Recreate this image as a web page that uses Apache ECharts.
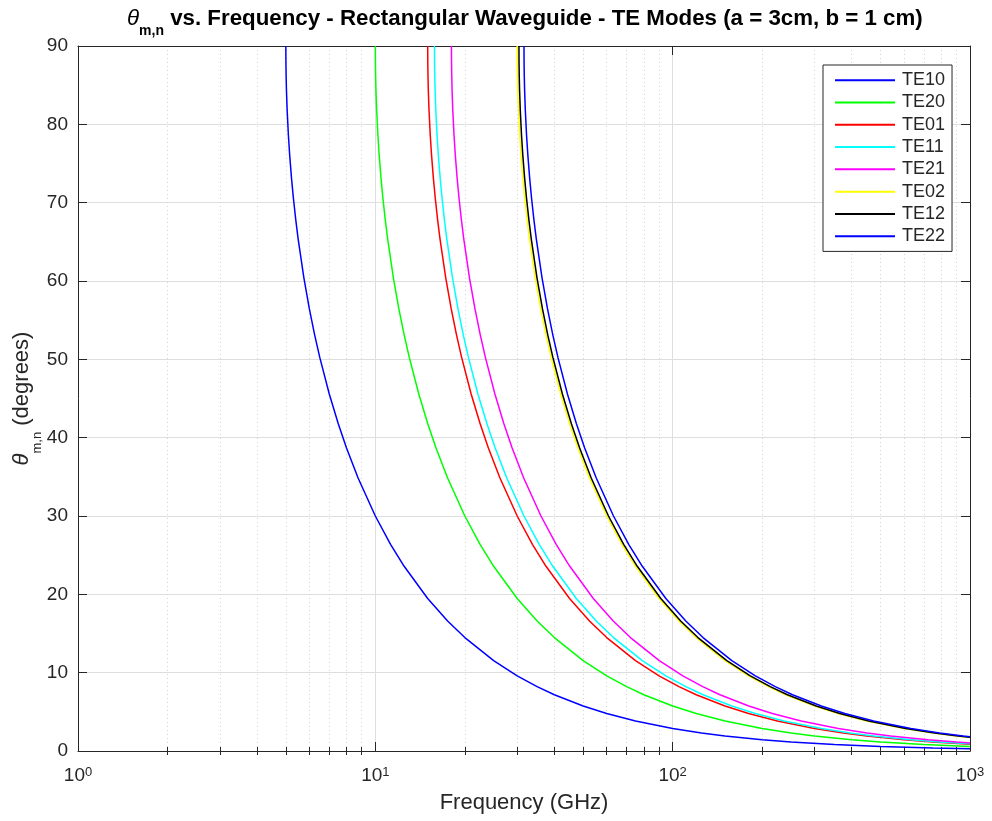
<!DOCTYPE html>
<html>
<head>
<meta charset="utf-8">
<title>Rectangular Waveguide TE Modes</title>
<script src="https://cdn.jsdelivr.net/npm/echarts@6/dist/echarts.min.js"></script>
<style>
  html, body { margin: 0; padding: 0; background: #fff; }
  #main { width: 992px; height: 821px; }
</style>
</head>
<body>
<div id="main"></div>
<script>
// values: frequency (GHz) and angle (degrees) per mode
const modeNames = ['TE10', 'TE20', 'TE01', 'TE11', 'TE21', 'TE02', 'TE12', 'TE22'];
const modeColors = ['#0000ff', '#00ff00', '#ff0000', '#00ffff', '#ff00ff', '#ffff00', '#000000', '#0000ff'];

const te10Freq = [5, 5.0025, 5.01, 5.025, 5.05, 5.1, 5.15, 5.225, 5.3, 5.4, 5.5, 5.75, 6, 6.25, 6.5, 7, 7.5, 8, 8.75, 10, 11.25, 12.5, 15, 17.5, 20, 25, 30, 35, 40, 50, 60, 75, 100, 125, 150, 200, 250, 350, 500, 750, 1000];
const te10Theta = [90, 88.19, 86.38, 84.28, 81.93, 78.64, 76.14, 73.13, 70.63, 67.81, 65.38, 60.41, 56.44, 53.13, 50.28, 45.58, 41.81, 38.68, 34.85, 30, 26.39, 23.58, 19.47, 16.6, 14.48, 11.54, 9.59, 8.21, 7.18, 5.74, 4.78, 3.82, 2.87, 2.29, 1.91, 1.43, 1.15, 0.82, 0.57, 0.38, 0.29];

const te20Freq = [10, 10.005, 10.02, 10.05, 10.1, 10.2, 10.3, 10.45, 10.6, 10.8, 11, 11.5, 12, 12.5, 13, 14, 15, 16, 17.5, 20, 22.5, 25, 30, 35, 40, 50, 60, 70, 80, 100, 120, 150, 200, 250, 300, 400, 500, 700, 1000];
const te20Theta = [90, 88.19, 86.38, 84.28, 81.93, 78.64, 76.14, 73.13, 70.63, 67.81, 65.38, 60.41, 56.44, 53.13, 50.28, 45.58, 41.81, 38.68, 34.85, 30, 26.39, 23.58, 19.47, 16.6, 14.48, 11.54, 9.59, 8.21, 7.18, 5.74, 4.78, 3.82, 2.87, 2.29, 1.91, 1.43, 1.15, 0.82, 0.57];

const te01Freq = [15, 15.0075, 15.03, 15.075, 15.15, 15.3, 15.45, 15.675, 15.9, 16.2, 16.5, 17.25, 18, 18.75, 19.5, 21, 22.5, 24, 26.25, 30, 33.75, 37.5, 45, 52.5, 60, 75, 90, 105, 120, 150, 180, 225, 300, 375, 450, 600, 750, 1000];
const te01Theta = [90, 88.19, 86.38, 84.28, 81.93, 78.64, 76.14, 73.13, 70.63, 67.81, 65.38, 60.41, 56.44, 53.13, 50.28, 45.58, 41.81, 38.68, 34.85, 30, 26.39, 23.58, 19.47, 16.6, 14.48, 11.54, 9.59, 8.21, 7.18, 5.74, 4.78, 3.82, 2.87, 2.29, 1.91, 1.43, 1.15, 0.86];

const te11Freq = [15.81, 15.818, 15.842, 15.889, 15.968, 16.126, 16.284, 16.521, 16.759, 17.075, 17.39, 18.18, 18.97, 19.76, 20.55, 22.13, 23.72, 25.3, 27.67, 31.62, 35.57, 39.53, 47.43, 55.34, 63.24, 79.05, 94.86, 110.7, 126.5, 158.1, 189.7, 237.2, 316.2, 395.3, 474.3, 632.4, 790.5, 1000];
const te11Theta = [90, 88.19, 86.38, 84.28, 81.93, 78.64, 76.14, 73.13, 70.63, 67.81, 65.38, 60.41, 56.44, 53.13, 50.28, 45.58, 41.81, 38.68, 34.85, 30, 26.39, 23.58, 19.47, 16.6, 14.48, 11.54, 9.59, 8.21, 7.18, 5.74, 4.78, 3.82, 2.87, 2.29, 1.91, 1.43, 1.15, 0.91];

const te21Freq = [18.03, 18.039, 18.066, 18.12, 18.21, 18.391, 18.571, 18.841, 19.112, 19.472, 19.833, 20.73, 21.636, 22.538, 23.439, 25.242, 27.045, 28.848, 31.55, 36.06, 40.57, 45.08, 54.09, 63.11, 72.12, 90.15, 108.2, 126.2, 144.2, 180.3, 216.4, 270.5, 360.6, 450.8, 540.9, 721.2, 901.5, 1000];
const te21Theta = [90, 88.19, 86.38, 84.28, 81.93, 78.64, 76.14, 73.13, 70.63, 67.81, 65.38, 60.41, 56.44, 53.13, 50.28, 45.58, 41.81, 38.68, 34.85, 30, 26.39, 23.58, 19.47, 16.6, 14.48, 11.54, 9.59, 8.21, 7.18, 5.74, 4.78, 3.82, 2.87, 2.29, 1.91, 1.43, 1.15, 1.03];

const te02Freq = [30, 30.015, 30.06, 30.15, 30.3, 30.6, 30.9, 31.35, 31.8, 32.4, 33, 34.5, 36, 37.5, 39, 42, 45, 48, 52.5, 60, 67.5, 75, 90, 105, 120, 150, 180, 210, 240, 300, 360, 450, 600, 750, 900, 1000];
const te02Theta = [90, 88.19, 86.38, 84.28, 81.93, 78.64, 76.14, 73.13, 70.63, 67.81, 65.38, 60.41, 56.44, 53.13, 50.28, 45.58, 41.81, 38.68, 34.85, 30, 26.39, 23.58, 19.47, 16.6, 14.48, 11.54, 9.59, 8.21, 7.18, 5.74, 4.78, 3.82, 2.87, 2.29, 1.91, 1.72];

const te12Freq = [30.41, 30.425, 30.471, 30.562, 30.714, 31.018, 31.322, 31.778, 32.235, 32.843, 33.451, 34.97, 36.492, 38.01, 39.533, 42.574, 45.615, 48.656, 53.22, 60.82, 68.42, 76.03, 91.23, 106.4, 121.6, 152.1, 182.5, 212.9, 243.3, 304.1, 364.9, 456.2, 608.2, 760.3, 912.3, 1000];
const te12Theta = [90, 88.19, 86.38, 84.28, 81.93, 78.64, 76.14, 73.13, 70.63, 67.81, 65.38, 60.41, 56.44, 53.13, 50.28, 45.58, 41.81, 38.68, 34.85, 30, 26.39, 23.58, 19.47, 16.6, 14.48, 11.54, 9.59, 8.21, 7.18, 5.74, 4.78, 3.82, 2.87, 2.29, 1.91, 1.74];

const te22Freq = [31.62, 31.636, 31.683, 31.778, 31.936, 32.252, 32.569, 33.043, 33.517, 34.15, 34.782, 36.363, 37.944, 39.525, 41.106, 44.268, 47.43, 50.592, 55.335, 63.24, 71.145, 79.05, 94.86, 110.7, 126.5, 158.1, 189.7, 221.3, 253, 316.2, 379.4, 474.3, 632.4, 790.5, 948.6, 1000];
const te22Theta = [90, 88.19, 86.38, 84.28, 81.93, 78.64, 76.14, 73.13, 70.63, 67.81, 65.38, 60.41, 56.44, 53.13, 50.28, 45.58, 41.81, 38.68, 34.85, 30, 26.39, 23.58, 19.47, 16.6, 14.48, 11.54, 9.59, 8.21, 7.18, 5.74, 4.78, 3.82, 2.87, 2.29, 1.91, 1.81];

const modeFreqs = [te10Freq, te20Freq, te01Freq, te11Freq, te21Freq, te02Freq, te12Freq, te22Freq];
const modeThetas = [te10Theta, te20Theta, te01Theta, te11Theta, te21Theta, te02Theta, te12Theta, te22Theta];

// axis ticks
const xMinorTicks = [2, 3, 4, 5, 6, 7, 8, 9, 20, 30, 40, 50, 60, 70, 80, 90, 200, 300, 400, 500, 600, 700, 800, 900];
const yMin = 0, yMax = 90, yStep = 10;

const textColor = '#262626';
const fontFamily = 'Liberation Sans, Arial, Helvetica, sans-serif';

const chart = echarts.init(document.getElementById('main'));

const series = modeNames.map((name, i) => ({
  name: name,
  type: 'line',
  xAxisIndex: 0,
  yAxisIndex: 0,
  symbol: 'none',
  smooth: false,
  lineStyle: { color: modeColors[i], width: 1.5 },
  itemStyle: { color: modeColors[i] },
  emphasis: { disabled: true },
  data: modeFreqs[i].map((f, j) => [f, modeThetas[i][j]])
}));

function logAxis(pos, opts) {
  return Object.assign({
    type: 'log',
    logBase: 10,
    min: 1,
    max: 1000,
    position: pos,
    gridIndex: 0,
    axisLine: { show: false },
    axisTick: { show: false },
    axisLabel: { show: false },
    splitLine: { show: false }
  }, opts);
}

const option = {
  animation: false,
  backgroundColor: '#ffffff',
  textStyle: { fontFamily: fontFamily, color: textColor },
  title: {
    text: '{th|θ}{sub|m,n}{t| vs. Frequency - Rectangular Waveguide - TE Modes (a = 3cm, b = 1 cm)}',
    left: 122,
    top: 3,
    padding: 5,
    textStyle: {
      rich: {
        th: { fontFamily: fontFamily, fontSize: 22.3, fontStyle: 'italic', fontWeight: 'normal', color: '#000', lineHeight: 26, verticalAlign: 'top' },
        sub: { fontFamily: fontFamily, fontSize: 14, fontWeight: 'bold', color: '#000', lineHeight: 14, padding: [16, 0, 0, 0], verticalAlign: 'top' },
        t: { fontFamily: fontFamily, fontSize: 22.3, fontWeight: 'bold', color: '#000', lineHeight: 26, verticalAlign: 'top' }
      }
    }
  },
  legend: {
    orient: 'vertical',
    left: 823,
    top: 65,
    padding: [4, 7, 4, 12],
    icon: 'rect',
    itemWidth: 60,
    itemHeight: 2,
    itemGap: 0,
    backgroundColor: '#ffffff',
    borderColor: textColor,
    borderWidth: 1,
    borderRadius: 0,
    selectedMode: false,
    textStyle: { fontFamily: fontFamily, fontSize: 18, color: textColor, lineHeight: 22.3, padding: [0, 0, 0, 2] },
    data: modeNames
  },
  grid: { left: 78, right: 22, top: 46, bottom: 70, containLabel: false, outerBoundsMode: 'none' },
  xAxis: [
    logAxis('bottom', {
      name: 'Frequency (GHz)',
      nameLocation: 'middle',
      nameGap: 41,
      nameMoveOverlap: false,
      nameTextStyle: { fontFamily: fontFamily, fontSize: 22, color: textColor },
      axisLine: { show: true, onZero: false, lineStyle: { color: textColor, width: 1 } },
      axisTick: { show: true, inside: true, length: 9, lineStyle: { color: textColor } },
      axisLabel: {
        show: true,
        margin: 15,
        formatter: v => '{b|10}{s|' + Math.round(Math.log10(v)) + '}',
        rich: {
          b: { fontFamily: fontFamily, fontSize: 19, color: textColor, lineHeight: 19, verticalAlign: 'bottom' },
          s: { fontFamily: fontFamily, fontSize: 13, color: textColor, lineHeight: 13, padding: [0, 0, 10, 0], verticalAlign: 'top' }
        }
      },
      splitLine: { show: true, lineStyle: { color: '#dedede', width: 1 } }
    }),
    logAxis('bottom', {
      axisTick: { show: true, inside: true, length: 4, customValues: xMinorTicks, lineStyle: { color: textColor } },
      splitLine: { show: true, lineStyle: { color: '#d2d2d2', width: 1, type: [1, 3] } }
    }),
    logAxis('top', {
      axisLine: { show: true, onZero: false, lineStyle: { color: textColor, width: 1 } },
      axisTick: { show: true, inside: true, length: 9, lineStyle: { color: textColor } }
    }),
    logAxis('top', {
      axisTick: { show: true, inside: true, length: 4, customValues: xMinorTicks, lineStyle: { color: textColor } }
    })
  ],
  yAxis: [
    {
      type: 'value',
      min: yMin,
      max: yMax,
      interval: yStep,
      position: 'left',
      name: '{th|θ}{sub|m,n}{t| (degrees)}',
      nameLocation: 'middle',
      nameGap: 40,
      nameMoveOverlap: false,
      nameTextStyle: {
        rich: {
          th: { fontFamily: fontFamily, fontSize: 22, fontStyle: 'italic', color: textColor, lineHeight: 27, verticalAlign: 'top' },
          sub: { fontFamily: fontFamily, fontSize: 13, color: textColor, lineHeight: 13, padding: [20, 0, 0, 0], verticalAlign: 'top' },
          t: { fontFamily: fontFamily, fontSize: 22, color: textColor, lineHeight: 27, verticalAlign: 'top' }
        }
      },
      axisLine: { show: true, onZero: false, lineStyle: { color: textColor, width: 1 } },
      axisTick: { show: true, inside: true, length: 9, lineStyle: { color: textColor } },
      axisLabel: { show: true, margin: 10, fontFamily: fontFamily, fontSize: 19, color: textColor },
      splitLine: { show: true, lineStyle: { color: '#dedede', width: 1 } }
    },
    {
      type: 'value',
      min: yMin,
      max: yMax,
      interval: yStep,
      position: 'right',
      axisLine: { show: true, onZero: false, lineStyle: { color: textColor, width: 1 } },
      axisTick: { show: true, inside: true, length: 9, lineStyle: { color: textColor } },
      axisLabel: { show: false },
      splitLine: { show: false }
    }
  ],
  series: series
};

chart.setOption(option);
</script>
</body>
</html>
